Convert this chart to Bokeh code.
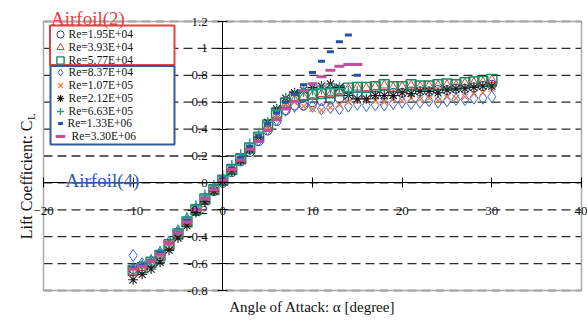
import math
from bokeh.plotting import figure
from bokeh.models import (Range1d, FixedTicker, Label, BoxAnnotation, Legend,
                          LegendItem, NumeralTickFormatter)
from bokeh.embed import file_html
from bokeh.resources import INLINE

# ---------------- data ----------------
alpha_low = list(range(-10, 31))     # low-Re series: -10 .. 30 deg
alpha_high = list(range(-10, 16))    # high-Re series: -10 .. 15 deg

labels = ["Re=1.95E+04", "Re=3.93E+04", "Re=5.77E+04", "Re=8.37E+04", "Re=1.07E+05",
          "Re=2.12E+05", "Re=6.63E+05", "Re=1.33E+06", "Re=3.30E+06"]

cl_195e4 = [-0.64, -0.62, -0.59, -0.53, -0.46, -0.37, -0.29, -0.21, -0.13, -0.06, 0.00,
            0.08, 0.16, 0.23, 0.31, 0.39, 0.46, 0.54, 0.575, 0.575, 0.60, 0.61, 0.62, 0.63,
            0.64, 0.65, 0.65, 0.66, 0.66, 0.67, 0.67, 0.68, 0.68, 0.68, 0.69, 0.69, 0.70,
            0.70, 0.71, 0.72, 0.73]
cl_393e4 = [-0.66, -0.63, -0.60, -0.54, -0.47, -0.38, -0.29, -0.21, -0.13, -0.06, 0.01,
            0.09, 0.17, 0.25, 0.33, 0.42, 0.50, 0.58, 0.62, 0.64, 0.65, 0.66, 0.66, 0.68,
            0.70, 0.71, 0.705, 0.715, 0.725, 0.71, 0.715, 0.725, 0.715, 0.72, 0.725, 0.73,
            0.725, 0.74, 0.745, 0.75, 0.765]
cl_577e4 = [-0.65, -0.63, -0.59, -0.54, -0.46, -0.38, -0.29, -0.20, -0.12, -0.05, 0.02,
            0.10, 0.18, 0.26, 0.34, 0.43, 0.52, 0.59, 0.64, 0.65, 0.66, 0.665, 0.67, 0.685,
            0.705, 0.71, 0.71, 0.715, 0.73, 0.715, 0.715, 0.73, 0.72, 0.72, 0.73, 0.735,
            0.73, 0.745, 0.75, 0.755, 0.77]
cl_837e4 = [-0.54, -0.60, -0.58, -0.52, -0.44, -0.36, -0.27, -0.19, -0.11, -0.04, 0.02,
            0.10, 0.17, 0.25, 0.32, 0.40, 0.47, 0.54, 0.57, 0.58, 0.57, 0.55, 0.56, 0.55,
            0.57, 0.585, 0.575, 0.58, 0.58, 0.59, 0.60, 0.59, 0.60, 0.61, 0.60, 0.61, 0.62,
            0.62, 0.63, 0.63, 0.64]
cl_107e5 = [-0.63, -0.62, -0.58, -0.53, -0.45, -0.37, -0.28, -0.20, -0.12, -0.05, 0.02,
            0.10, 0.18, 0.26, 0.34, 0.42, 0.50, 0.59, 0.60, 0.57, 0.55, 0.54, 0.56, 0.58,
            0.60, 0.61, 0.62, 0.61, 0.60, 0.62, 0.61, 0.63, 0.62, 0.63, 0.61, 0.64, 0.63,
            0.64, 0.66, 0.67, 0.70]
cl_212e5 = [-0.72, -0.68, -0.64, -0.59, -0.50, -0.41, -0.32, -0.22, -0.14, -0.06, 0.01,
            0.09, 0.17, 0.25, 0.34, 0.45, 0.55, 0.63, 0.67, 0.69, 0.71, 0.72, 0.735, 0.71,
            0.65, 0.625, 0.625, 0.65, 0.65, 0.65, 0.67, 0.665, 0.68, 0.68, 0.67, 0.69, 0.70,
            0.70, 0.71, 0.72, 0.72]
cl_663e5 = [-0.63, -0.61, -0.57, -0.51, -0.44, -0.35, -0.26, -0.17, -0.09, -0.02, 0.05,
            0.13, 0.21, 0.29, 0.37, 0.45, 0.54, 0.63, 0.66, 0.68, 0.69, 0.70, 0.70, 0.70,
            0.68, 0.675]
cl_133e6 = [-0.63, -0.61, -0.58, -0.52, -0.45, -0.37, -0.28, -0.20, -0.12, -0.05, 0.03,
            0.11, 0.19, 0.27, 0.35, 0.44, 0.52, 0.60, 0.66, 0.73, 0.82, 0.905, 0.975, 1.05,
            1.10, 0.80]
cl_330e6 = [-0.64, -0.62, -0.58, -0.53, -0.45, -0.37, -0.29, -0.20, -0.12, -0.05, 0.02,
            0.10, 0.17, 0.25, 0.31, 0.39, 0.47, 0.55, 0.605, 0.687, 0.737, 0.79, 0.838, 0.868,
            0.88, 0.88]

x_ticks = [-20, -10, 0, 10, 20, 30, 40]
y_ticks = [-0.8, -0.6, -0.4, -0.2, 0.0, 0.2, 0.4, 0.6, 0.8, 1.0, 1.2]

FONT = "Liberation Serif"

# ---------------- layout (frame covers the whole canvas) ----------------
W, H = 587, 329
PX_L, PX_R = 43.0, 581.0     # pixel columns of x = -20 and x = 40
PY_T, PY_B = 21.0, 290.0     # pixel rows of y = 1.2 and y = -0.8
kx = (PX_R - PX_L) / (x_ticks[-1] - x_ticks[0])
ky = (PY_B - PY_T) / (y_ticks[-1] - y_ticks[0])
x_range = Range1d(x_ticks[0] - PX_L / kx, x_ticks[-1] + (W - PX_R) / kx)
y_range = Range1d(y_ticks[0] - (H - PY_B) / ky, y_ticks[-1] + PY_T / ky)

p = figure(width=W, height=H, x_range=x_range, y_range=y_range,
           output_backend="svg", toolbar_location=None,
           min_border_left=0, min_border_right=0, min_border_top=0, min_border_bottom=0)
p.outline_line_color = None
p.xgrid.visible = False
p.ygrid.visible = False

def sx(px):
    return px

def sy(py):
    return H - py

# plot-area border and dashed horizontal gridlines
p.add_layout(BoxAnnotation(left=x_ticks[0], right=x_ticks[-1], bottom=y_ticks[0], top=y_ticks[-1],
                           fill_alpha=0, line_color="#a8a8a8", line_alpha=1, line_width=1.5,
                           level="underlay"))
p.segment(x0=[x_ticks[0]] * len(y_ticks), y0=y_ticks, x1=[x_ticks[-1]] * len(y_ticks), y1=y_ticks,
          line_color="#2a2a2a", line_dash="9 5", line_width=1.3, level="underlay")

for ax, ticks in ((p.xaxis[0], x_ticks), (p.yaxis[0], y_ticks)):
    ax.fixed_location = 0
    ax.bounds = (ticks[0], ticks[-1])
    ax.ticker = FixedTicker(ticks=ticks)
    ax.axis_line_color = "black"
    ax.axis_line_width = 1
    ax.major_tick_in = 5
    ax.major_tick_out = 5
    ax.major_tick_line_color = "black"
    ax.minor_tick_line_color = None
    ax.major_label_text_font = FONT
    ax.major_label_text_font_size = "13px"
    ax.major_label_text_color = "#111111"
p.xaxis[0].major_label_standoff = 19
p.yaxis[0].major_label_standoff = 10
p.yaxis[0].formatter = NumeralTickFormatter(format="0.[0]")

# ---------------- series ----------------
series = [
    (alpha_low, cl_195e4, "circle", 9, "#26358f", 1.0),
    (alpha_low, cl_393e4, "triangle", 9, "#e8363c", 1.0),
    (alpha_low, cl_577e4, "square", 10, "#16885a", 1.4),
    (alpha_low, cl_837e4, "diamond", 12, "#3a6cd0", 1.0),
    (alpha_low, cl_107e5, "x", 9, "#f27b44", 1.2),
    (alpha_low, cl_212e5, "asterisk", 10, "#1a1a1a", 1.1),
    (alpha_high, cl_663e5, "cross", 11, "#1f9c8c", 1.4),
    (alpha_high, cl_133e6, "dash", 7, "#2253a6", 3.0),
    (alpha_high, cl_330e6, "dash", 10, "#c24f9e", 3.0),
]
renderers = []
for xs, ys, mk, sz, col, lw in series:
    r = p.scatter(xs, ys, marker=mk, size=sz, fill_color=None, line_color=col, line_width=lw)
    renderers.append(r)

# ---------------- legend boxes ----------------
def screen_box(l, r, t, b, **kw):
    return BoxAnnotation(left=sx(l), right=sx(r), top=sy(t), bottom=sy(b),
                         left_units="screen", right_units="screen", top_units="screen",
                         bottom_units="screen", **kw)

p.add_layout(screen_box(49.5, 174, 25, 64.5, fill_color="white", fill_alpha=1,
                        line_color="#e8403f", line_alpha=1, line_width=2))
p.add_layout(screen_box(50, 174, 65.5, 144, fill_color="white", fill_alpha=1,
                        line_color="#2f5aa8", line_alpha=1, line_width=2))

glyph_boxes = [(18, 22)] * 7 + [(12, 22), (24, 24)]
for i, (r, lab) in enumerate(zip(renderers, labels)):
    gw, gh = glyph_boxes[i]
    cy = 34 + 12.75 * i
    cx = 59.5
    left = cx - gw / 2
    standoff = int(round(68 - (left + gw)))
    leg = Legend(items=[LegendItem(label=lab, renderers=[r])],
                 location=(sx(left), sy(cy + gh / 2)),
                 padding=0, margin=0, spacing=0,
                 border_line_color=None, background_fill_alpha=0,
                 glyph_width=gw, glyph_height=gh, label_height=gh,
                 label_standoff=standoff,
                 label_text_font=FONT, label_text_font_size="11.5px",
                 label_text_color="#111111")
    p.add_layout(leg)

p.add_layout(Label(x=sx(50.5), y=sy(18.3), x_units="screen", y_units="screen",
                   text="Airfoil(2)", text_font=FONT, text_font_size="19px",
                   text_color="#e8403f", text_baseline="alphabetic"))
p.add_layout(Label(x=sx(65), y=sy(179.5), x_units="screen", y_units="screen",
                   text="Airfoil(4)", text_font=FONT, text_font_size="19px",
                   text_color="#2f5aa8", text_baseline="alphabetic"))
p.add_layout(screen_box(66, 139, 181.4, 183, fill_color="#2f5aa8", fill_alpha=1,
                        line_color=None))

# axis titles
p.add_layout(Label(x=sx(311.7), y=sy(306), x_units="screen", y_units="screen",
                   text="Angle of Attack: \u03b1 [degree]", text_font=FONT,
                   text_font_size="15px", text_color="#111111", text_align="center",
                   text_baseline="alphabetic"))
p.add_layout(Label(x=sx(26), y=sy(120), x_units="screen", y_units="screen",
                   text="Lift Coefficient: C", text_font=FONT, text_font_size="16px",
                   text_color="#111111", text_align="right", text_baseline="middle",
                   angle=math.pi / 2))
p.add_layout(Label(x=sx(30), y=sy(119.5), x_units="screen", y_units="screen",
                   text="L", text_font=FONT, text_font_size="11px",
                   text_color="#111111", text_align="left", text_baseline="middle",
                   angle=math.pi / 2))

open("out.html", "w").write(file_html(p, INLINE))
